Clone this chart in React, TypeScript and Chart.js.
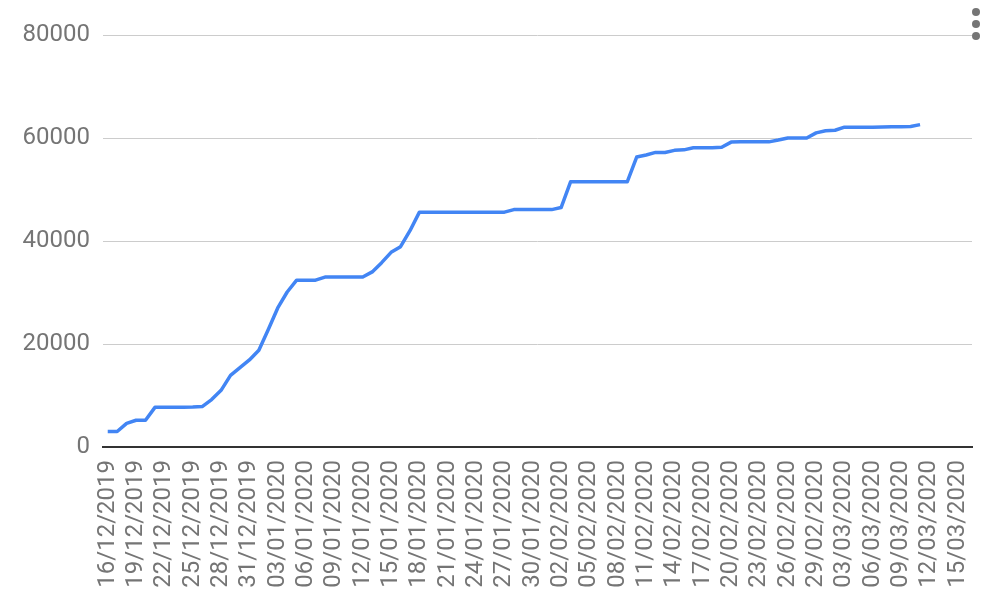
import React, { useEffect, useRef } from "react";
import { Chart, registerables } from "chart.js";

Chart.register(...registerables);

const dateLabels: string[] = [
  "16/12/2019", "17/12/2019", "18/12/2019", "19/12/2019", "20/12/2019", "21/12/2019", "22/12/2019", "23/12/2019",
  "24/12/2019", "25/12/2019", "26/12/2019", "27/12/2019", "28/12/2019", "29/12/2019", "30/12/2019", "31/12/2019",
  "01/01/2020", "02/01/2020", "03/01/2020", "04/01/2020", "05/01/2020", "06/01/2020", "07/01/2020", "08/01/2020",
  "09/01/2020", "10/01/2020", "11/01/2020", "12/01/2020", "13/01/2020", "14/01/2020", "15/01/2020", "16/01/2020",
  "17/01/2020", "18/01/2020", "19/01/2020", "20/01/2020", "21/01/2020", "22/01/2020", "23/01/2020", "24/01/2020",
  "25/01/2020", "26/01/2020", "27/01/2020", "28/01/2020", "29/01/2020", "30/01/2020", "31/01/2020",
  "01/02/2020", "02/02/2020", "03/02/2020", "04/02/2020", "05/02/2020", "06/02/2020", "07/02/2020", "08/02/2020",
  "09/02/2020", "10/02/2020", "11/02/2020", "12/02/2020", "13/02/2020", "14/02/2020", "15/02/2020", "16/02/2020",
  "17/02/2020", "18/02/2020", "19/02/2020", "20/02/2020", "21/02/2020", "22/02/2020", "23/02/2020", "24/02/2020",
  "25/02/2020", "26/02/2020", "27/02/2020", "28/02/2020", "29/02/2020",
  "01/03/2020", "02/03/2020", "03/03/2020", "04/03/2020", "05/03/2020", "06/03/2020", "07/03/2020", "08/03/2020",
  "09/03/2020", "10/03/2020", "11/03/2020", "12/03/2020", "13/03/2020", "14/03/2020", "15/03/2020", "16/03/2020",
];

const seriesValues: number[] = [
  3000, 3000, 4600, 5200, 5200, 7700, 7700, 7700, 7700, 7750,
  7850, 9200, 11000, 13900, 15400, 16900, 18800, 22800, 27000, 30100,
  32400, 32400, 32400, 33000, 33000, 33000, 33000, 33000, 34000, 35800,
  37800, 38900, 42000, 45600, 45600, 45600, 45600, 45600, 45600, 45600,
  45600, 45600, 45600, 46100, 46100, 46100, 46100, 46100, 46500, 51500,
  51500, 51500, 51500, 51500, 51500, 51500, 56300, 56700, 57200, 57200,
  57600, 57700, 58100, 58100, 58100, 58200, 59200, 59250, 59250, 59250,
  59250, 59600, 60000, 60000, 60000, 61000, 61400, 61500, 62100, 62100,
  62100, 62100, 62150, 62200, 62200, 62250, 62600,
];

const yTickValues: number[] = [0, 20000, 40000, 60000, 80000];
const labelEvery = 3;

const TEXT_COLOR = "#757575";
const FONT = "Roboto";

const menuDots = {
  id: "menuDots",
  afterDraw(chart: any) {
    const ctx = chart.ctx;
    ctx.save();
    ctx.fillStyle = "#757575";
    [12, 24, 36].forEach((y) => {
      ctx.beginPath();
      ctx.arc(976, y, 4, 0, Math.PI * 2);
      ctx.fill();
    });
    ctx.restore();
  },
};

export default function App() {
  const ref = useRef<HTMLCanvasElement | null>(null);

  useEffect(() => {
    if (!ref.current) return;
    const chart = new Chart(ref.current, {
      type: "line",
      data: {
        labels: dateLabels,
        datasets: [
          {
            data: seriesValues,
            borderColor: "#4285F4",
            backgroundColor: "#4285F4",
            borderWidth: 3.5,
            pointRadius: 0,
            pointHoverRadius: 0,
            tension: 0,
            borderJoinStyle: "round",
            fill: false,
          },
        ],
      },
      options: {
        responsive: false,
        animation: false,
        layout: { padding: { top: 35, right: 20, left: 0, bottom: 0 } },
        plugins: {
          legend: { display: false },
          tooltip: { enabled: false },
        },
        scales: {
          x: {
            type: "category",
            offset: true,
            grid: { display: false, drawTicks: false },
            border: { display: true, color: "#333333", width: 2 },
            ticks: {
              autoSkip: false,
              minRotation: 90,
              maxRotation: 90,
              padding: 13,
              color: TEXT_COLOR,
              font: { family: FONT, size: 24 },
              callback: (_v: any, i: number) => (i % labelEvery === 0 ? dateLabels[i] : ""),
            },
            afterFit: (scale: any) => {
              scale.height = 163;
              scale.paddingLeft = 0;
              scale.paddingRight = 0;
            },
          },
          y: {
            min: 0,
            max: 80000,
            grid: { color: "#cccccc", lineWidth: 1, drawTicks: false },
            border: { display: false },
            afterBuildTicks: (scale: any) => {
              scale.ticks = yTickValues.map((v) => ({ value: v }));
            },
            ticks: {
              padding: 13,
              color: TEXT_COLOR,
              font: { family: FONT, size: 24 },
              callback: (v: any) => String(v),
            },
            afterFit: (scale: any) => {
              scale.width = 103;
              scale.paddingTop = 0;
              scale.paddingBottom = 0;
            },
          },
        },
      },
      plugins: [menuDots],
    });
    return () => chart.destroy();
  }, []);

  return (
    <div style={{ position: "fixed", left: 0, top: 0, width: 992, height: 610, background: "#ffffff" }}>
      <canvas ref={ref} width={992} height={610} style={{ display: "block" }} />
    </div>
  );
}
